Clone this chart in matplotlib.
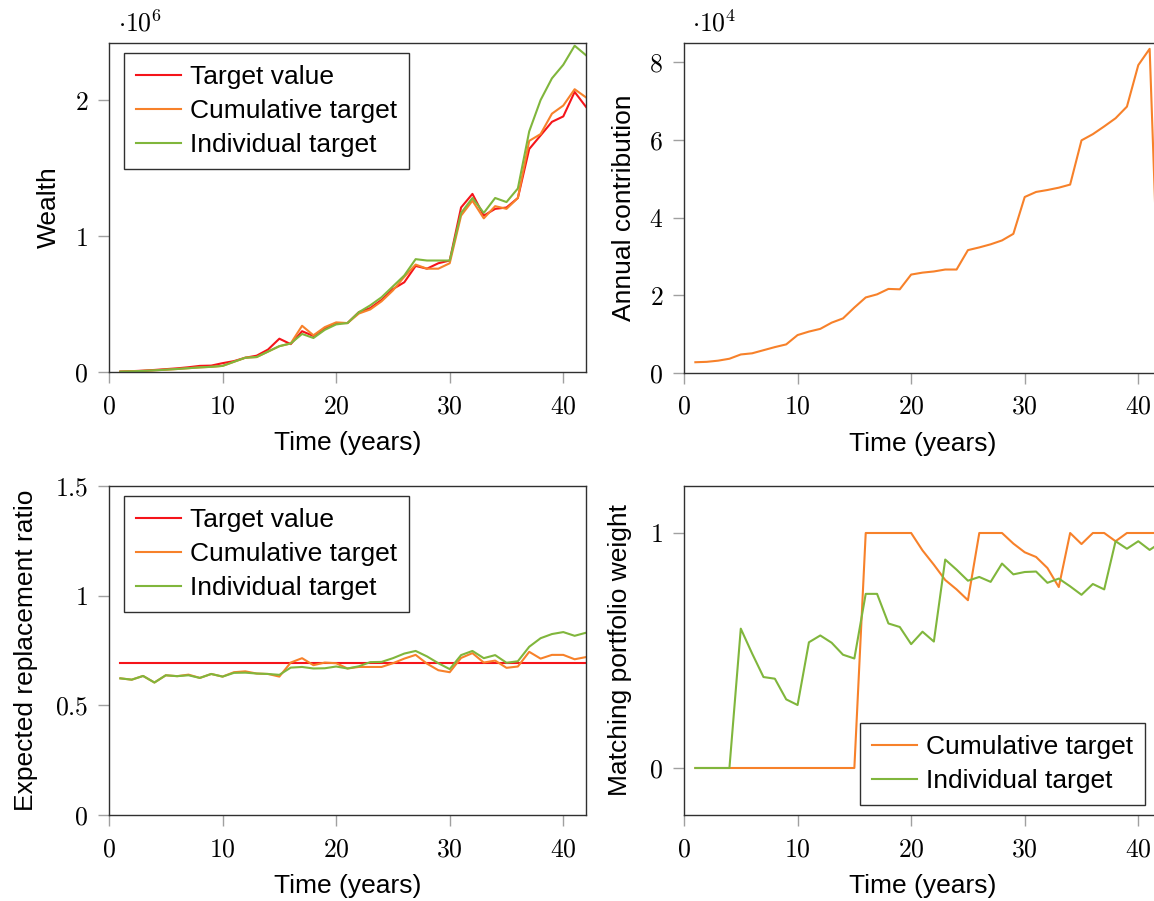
import numpy as np
import matplotlib
matplotlib.use("Agg")
import matplotlib.pyplot as plt
from matplotlib.ticker import FuncFormatter, MultipleLocator

plt.rcParams['font.family'] = ['Liberation Sans', 'DejaVu Sans']
plt.rcParams['mathtext.fontset'] = 'cm'

# time axis (years)
years = list(range(1, 43))

# wealth, in units of 1e6
wealth_target = [0.003, 0.006, 0.010, 0.015, 0.021, 0.027, 0.035, 0.045, 0.047, 0.065,
                 0.080, 0.105, 0.120, 0.165, 0.245, 0.205, 0.300, 0.265, 0.320, 0.360,
                 0.360, 0.440, 0.470, 0.530, 0.610, 0.660, 0.780, 0.760, 0.800, 0.820,
                 1.210, 1.310, 1.150, 1.200, 1.210, 1.280, 1.640, 1.740, 1.840, 1.880,
                 2.060, 1.950]
wealth_cumulative = [0.003, 0.005, 0.008, 0.012, 0.017, 0.022, 0.028, 0.034, 0.038, 0.045,
                     0.075, 0.105, 0.110, 0.150, 0.190, 0.210, 0.340, 0.270, 0.330, 0.365,
                     0.360, 0.430, 0.460, 0.520, 0.600, 0.700, 0.790, 0.760, 0.760, 0.800,
                     1.150, 1.260, 1.130, 1.220, 1.200, 1.280, 1.700, 1.750, 1.900, 1.960,
                     2.080, 2.020]
wealth_individual = [0.003, 0.005, 0.008, 0.012, 0.017, 0.022, 0.028, 0.034, 0.038, 0.045,
                     0.075, 0.105, 0.110, 0.150, 0.190, 0.210, 0.280, 0.250, 0.310, 0.350,
                     0.360, 0.440, 0.490, 0.550, 0.630, 0.710, 0.830, 0.820, 0.820, 0.820,
                     1.170, 1.280, 1.170, 1.280, 1.250, 1.350, 1.770, 2.000, 2.160, 2.260,
                     2.400, 2.330]

# annual contribution, in units of 1e4
contribution = [0.27, 0.28, 0.31, 0.36, 0.47, 0.50, 0.58, 0.66, 0.73, 0.97,
                1.06, 1.13, 1.29, 1.40, 1.68, 1.94, 2.02, 2.16, 2.15, 2.53,
                2.58, 2.61, 2.66, 2.66, 3.16, 3.23, 3.31, 3.41, 3.58, 4.53,
                4.66, 4.71, 4.77, 4.85, 5.99, 6.15, 6.35, 6.56, 6.86, 7.93,
                8.35, 0.00]

# expected replacement ratio
ratio_target = [0.695] * 42
ratio_cumulative = [0.623, 0.617, 0.634, 0.604, 0.637, 0.633, 0.640, 0.625, 0.643, 0.631,
                    0.651, 0.655, 0.645, 0.643, 0.631, 0.695, 0.715, 0.683, 0.695, 0.692,
                    0.668, 0.675, 0.675, 0.675, 0.692, 0.713, 0.730, 0.690, 0.660, 0.651,
                    0.716, 0.738, 0.695, 0.704, 0.671, 0.677, 0.744, 0.713, 0.730, 0.730,
                    0.710, 0.720]
ratio_individual = [0.623, 0.617, 0.634, 0.604, 0.637, 0.633, 0.637, 0.625, 0.643, 0.631,
                    0.648, 0.649, 0.645, 0.643, 0.639, 0.672, 0.675, 0.668, 0.669, 0.677,
                    0.668, 0.678, 0.697, 0.698, 0.715, 0.736, 0.748, 0.723, 0.692, 0.665,
                    0.729, 0.748, 0.715, 0.729, 0.694, 0.701, 0.767, 0.806, 0.825, 0.834,
                    0.817, 0.831]

# matching portfolio weight
weight_cumulative = [0, 0, 0, 0, 0, 0, 0, 0, 0, 0,
                     0, 0, 0, 0, 0, 1, 1, 1, 1, 1,
                     0.926, 0.865, 0.800, 0.760, 0.714, 1, 1, 1, 0.955, 0.918,
                     0.898, 0.851, 0.770, 1, 0.953, 1, 1, 0.965, 1, 1,
                     1, 1]
weight_individual = [0, 0, 0, 0, 0.593, 0.487, 0.387, 0.380, 0.292, 0.268,
                     0.535, 0.564, 0.533, 0.482, 0.466, 0.741, 0.741, 0.615, 0.600, 0.527,
                     0.580, 0.538, 0.887, 0.844, 0.797, 0.813, 0.792, 0.870, 0.824, 0.834,
                     0.836, 0.788, 0.806, 0.773, 0.737, 0.783, 0.760, 0.965, 0.933, 0.965,
                     0.928, 0.960]

red = '#f5141a'
orange = '#f7812a'
green = '#80b63c'
lw = 1.5

fig = plt.figure(figsize=(11.54, 9.01), dpi=100)
W, H = 1154.0, 901.0


def make_axes(left, top, right, bottom):
    return fig.add_axes([left / W, 1 - bottom / H, (right - left) / W, (bottom - top) / H])


def style(ax, ylabel, ylabel_x):
    ax.set_xlim(0, 42)
    ax.xaxis.set_major_locator(MultipleLocator(10))
    fmt = FuncFormatter(lambda v, p: '$%g$' % round(v, 6))
    ax.xaxis.set_major_formatter(fmt)
    ax.yaxis.set_major_formatter(fmt)
    ax.tick_params(direction='out', length=8, width=1, color='#a0a0a0',
                   labelsize=18.5)
    ax.tick_params(axis='x', pad=8)
    ax.tick_params(axis='y', pad=7)
    for s in ax.spines.values():
        s.set_color('#303030')
        s.set_linewidth(1.0)
    ax.set_xlabel('Time (years)', fontsize=19)
    ax.xaxis.set_label_coords(0.5, -0.18)
    ax.set_ylabel(ylabel, fontsize=19)
    ax.yaxis.set_label_coords(ylabel_x, 0.5)


def legend(ax, loc, anchor):
    leg = ax.legend(loc=loc, bbox_to_anchor=anchor, borderaxespad=0, fontsize=19,
                    fancybox=False, framealpha=1, edgecolor='#303030',
                    handlelength=1.7, handletextpad=0.35, labelspacing=0.38,
                    borderpad=0.45)
    leg.get_frame().set_linewidth(1.0)


# wealth
ax1 = make_axes(109, 43, 586, 372)
ax1.plot(years, wealth_target, color=red, lw=lw, label='Target value')
ax1.plot(years, wealth_cumulative, color=orange, lw=lw, label='Cumulative target')
ax1.plot(years, wealth_individual, color=green, lw=lw, label='Individual target')
ax1.set_ylim(0, 2.42)
ax1.yaxis.set_major_locator(MultipleLocator(1))
style(ax1, 'Wealth', -0.10)
legend(ax1, 'upper left', (0.031, 0.970))
fig.text(118 / W, 1 - 32 / H, r'$\cdot 10^{6}$', fontsize=18.5, va='baseline')

# annual contribution
ax2 = make_axes(684, 43, 1161, 372.7)
ax2.plot(years, contribution, color=orange, lw=lw)
ax2.set_ylim(0, 8.5)
ax2.yaxis.set_major_locator(MultipleLocator(2))
style(ax2, 'Annual contribution', -0.10)
fig.text(692 / W, 1 - 32 / H, r'$\cdot 10^{4}$', fontsize=18.5, va='baseline')

# expected replacement ratio
ax3 = make_axes(109, 486, 586, 815)
ax3.plot(years, ratio_target, color=red, lw=lw, label='Target value')
ax3.plot(years, ratio_cumulative, color=orange, lw=lw, label='Cumulative target')
ax3.plot(years, ratio_individual, color=green, lw=lw, label='Individual target')
ax3.set_ylim(0, 1.5)
ax3.yaxis.set_major_locator(MultipleLocator(0.5))
style(ax3, 'Expected replacement ratio', -0.149)
legend(ax3, 'upper left', (0.031, 0.970))

# matching portfolio weight
ax4 = make_axes(684, 486, 1161, 815)
ax4.plot(years, weight_cumulative, color=orange, lw=lw, label='Cumulative target')
ax4.plot(years, weight_individual, color=green, lw=lw, label='Individual target')
ax4.set_ylim(-0.2, 1.2)
ax4.yaxis.set_major_locator(MultipleLocator(1))
style(ax4, 'Matching portfolio weight', -0.11)
legend(ax4, 'lower right', (0.966, 0.030))

fig.savefig('out.png', dpi=100)
